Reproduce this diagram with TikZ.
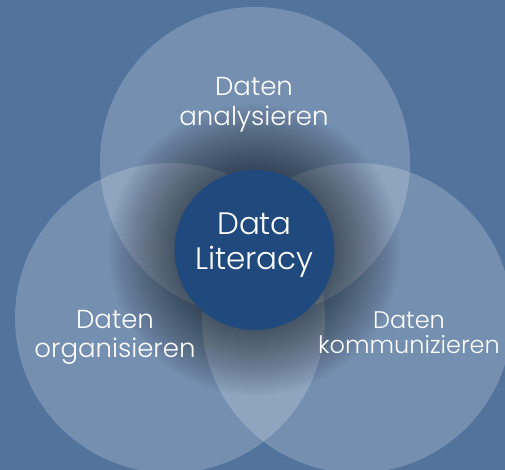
\documentclass[tikz,border=0pt]{standalone}
\usepackage{fontspec}
\setmainfont{Poppins}[UprightFont={* Light}]
\definecolor{bgblue}{HTML}{52739C}
\definecolor{coreblue}{HTML}{204A7E}
\tikzset{
  venn/.style={circle, inner sep=0pt, minimum size=310pt, fill=white, fill opacity=0.2},
  core/.style={circle, inner sep=0pt, minimum size=160pt, fill=coreblue},
  glowring/.style={fill=black, fill opacity=0.015},
  lbl/.style={text=white, align=center, inner sep=0pt},
}
\begin{document}
\begin{tikzpicture}[x=1pt,y=-1pt]
\fill[bgblue] (0,0) rectangle (505,470);
\useasboundingbox (0,0) rectangle (505,470);
\node[venn] (top) at (255,162) {};
\node[venn] (left) at (170,318) {};
\node[venn] (right) at (357,318) {};
\coordinate (c) at (254.5,250);
\foreach \r in {80,82,...,146} \fill[glowring] (c) circle [radius=\r];
\node[core] (core) at (c) {};
\node[lbl, font=\fontsize{31}{35}\selectfont] (coretext) at (254.5,245) {Data\\Literacy};
\node[lbl, font=\fontsize{26}{30}\selectfont] (toptext) at (254,105) {Daten\\analysieren};
\node[lbl, font=\fontsize{26}{29}\selectfont] (lefttext) at (115,337) {Daten\\organisieren};
\node[lbl, font=\fontsize{24}{25}\selectfont] (righttext) at (409,333) {Daten\\kommunizieren};
\end{tikzpicture}
\end{document}
